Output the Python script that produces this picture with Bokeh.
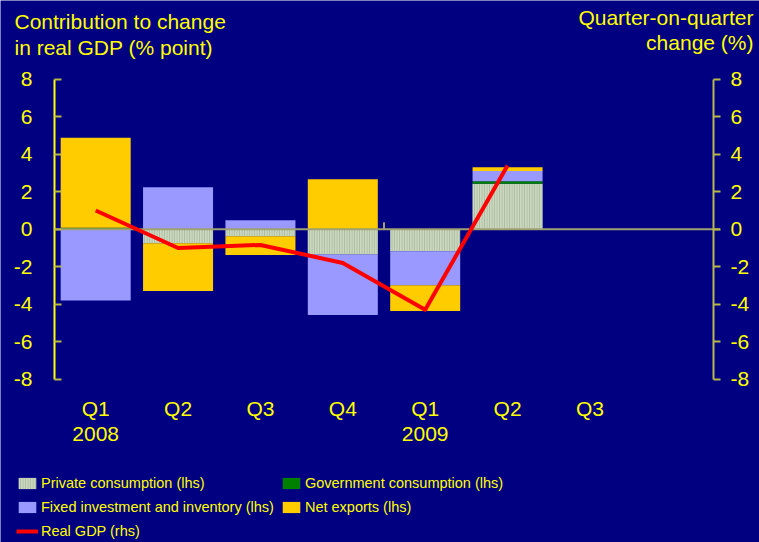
import numpy as np
from bokeh.plotting import figure
from bokeh.models import Range1d, LinearAxis, FixedTicker, Label, Legend, LegendItem
from bokeh.embed import file_html
from bokeh.resources import INLINE

# ---- data ----
quarter_labels = ["Q1\n2008", "Q2", "Q3", "Q4", "Q1\n2009", "Q2", "Q3", ""]
private = [0.0, -0.75, -0.37, -1.35, -1.17, 2.43]
government = [0.08, 0.0, 0.0, 0.0, 0.0, 0.13]
investment = [-3.8, 2.24, 0.48, -3.22, -1.82, 0.55]
net_exports = [4.8, -2.55, -1.0, 2.67, -1.37, 0.2]
real_gdp = [1.0, -1.0, -0.84, -1.8, -4.3, 3.4]
y_ticks = [-8, -6, -4, -2, 0, 2, 4, 6, 8]
y_min, y_max = -8, 8
year_breaks = [4]
left_title = ["Contribution to change", "in real GDP (% point)"]
right_title = ["Quarter-on-quarter", "change (%)"]

NAVY = "#000080"
YEL = "#ffff00"
AXGREY = "#b8b848"
FONT = "Liberation Sans"

# ---- layout (pixels) ----
W_PX, H_PX = 759, 542
PLOT_L, PLOT_R, PLOT_T, PLOT_B = 54, 713, 78.7, 378.7

n_slots = len(quarter_labels)
n = len(private)
xs = np.arange(n) + 0.5

px_x = (PLOT_R - PLOT_L) / n_slots
px_y = (PLOT_B - PLOT_T) / (y_max - y_min)
x_lo = 0 - PLOT_L / px_x
x_hi = n_slots + (W_PX - PLOT_R) / px_x
y_hi = y_max + PLOT_T / px_y
y_lo = y_min - (H_PX - PLOT_B) / px_y

# stacked positive / negative parts
pos = np.zeros(n)
neg = np.zeros(n)
stacks = []
for vals in [private, government, investment, net_exports]:
    v = np.array(vals, dtype=float)
    bottom = np.where(v >= 0, pos, neg)
    top = bottom + v
    pos = np.where(v >= 0, top, pos)
    neg = np.where(v < 0, top, neg)
    stacks.append((bottom, top))

p = figure(width=W_PX, height=H_PX, x_range=Range1d(x_lo, x_hi), y_range=Range1d(y_lo, y_hi),
           output_backend="svg", toolbar_location=None, min_border=0,
           background_fill_color=NAVY, border_fill_color=NAVY, outline_line_color=None)
p.xgrid.visible = False
p.ygrid.visible = False

tick_text = {t: str(t) for t in y_ticks}

# left axis (lhs)
ly = p.yaxis[0]
ly.fixed_location = 0
ly.bounds = (y_min, y_max)
ly.ticker = FixedTicker(ticks=y_ticks)
ly.major_label_overrides = tick_text
ly.axis_line_color = YEL
ly.axis_line_width = 2
ly.major_tick_line_color = AXGREY
ly.major_tick_line_width = 2
ly.major_tick_in = 7
ly.major_tick_out = 0
ly.minor_tick_line_color = None
ly.major_label_standoff = 22
ly.major_label_text_color = YEL
ly.major_label_text_font = FONT
ly.major_label_text_font_size = "21px"

# right axis (rhs)
p.extra_y_ranges = {"rhs": Range1d(y_lo, y_hi)}
ry = LinearAxis(y_range_name="rhs", ticker=FixedTicker(ticks=y_ticks), fixed_location=n_slots,
                bounds=(y_min, y_max))
ry.major_label_overrides = tick_text
ry.axis_line_color = AXGREY
ry.axis_line_width = 2
ry.major_tick_line_color = AXGREY
ry.major_tick_line_width = 2
ry.major_tick_in = 0
ry.major_tick_out = 7
ry.minor_tick_line_color = None
ry.major_label_standoff = 10
ry.major_label_text_color = YEL
ry.major_label_text_font = FONT
ry.major_label_text_font_size = "21px"
p.add_layout(ry, "right")

# category axis
bx = p.xaxis[0]
bx.fixed_location = y_min
bx.ticker = FixedTicker(ticks=list(np.arange(n_slots) + 0.5))
bx.major_label_overrides = {float(i + 0.5): lab for i, lab in enumerate(quarter_labels)}
bx.axis_line_color = None
bx.major_tick_line_color = None
bx.minor_tick_line_color = None
bx.major_label_standoff = 12
bx.major_label_text_color = YEL
bx.major_label_text_font = FONT
bx.major_label_text_font_size = "21px"
bx.major_label_text_line_height = 1.08

# bars
BW = 0.85
(b0, t0), (b1, t1), (b2, t2), (b3, t3) = stacks
r_priv = p.vbar(x=xs, bottom=b0, top=t0, width=BW, fill_color="#cad8c0", line_color=None,
                hatch_pattern="|", hatch_color="#aab89c", hatch_scale=2.5, hatch_weight=1)
r_gov = p.vbar(x=xs, bottom=b1, top=t1, width=BW, fill_color="#008000", line_color=None)
r_inv = p.vbar(x=xs, bottom=b2, top=t2, width=BW, fill_color="#9999ff", line_color=None)
r_nx = p.vbar(x=xs, bottom=b3, top=t3, width=BW, fill_color="#ffcc00", line_color=None)

# zero line and year separator
p.segment(x0=[0], y0=[0], x1=[n_slots + 0.08], y1=[0], line_color="#a0a070", line_width=2)
p.segment(x0=year_breaks, y0=[0] * len(year_breaks), x1=year_breaks, y1=[0.37] * len(year_breaks),
          line_color="#a0a070", line_width=2)

r_gdp = p.line(x=xs, y=real_gdp, y_range_name="rhs", line_color="#ff0000", line_width=4,
               line_join="round")

# axis titles
for txt, base in zip(left_title, [21, 46.5]):
    p.add_layout(Label(x=14, y=H_PX - base, x_units="screen", y_units="screen", text=txt,
                       text_color=YEL, text_font=FONT, text_font_size="21px",
                       text_align="left", text_baseline="alphabetic"))
for txt, base in zip(right_title, [16.5, 41.5]):
    p.add_layout(Label(x=753, y=H_PX - base, x_units="screen", y_units="screen", text=txt,
                       text_color=YEL, text_font=FONT, text_font_size="21px",
                       text_align="right", text_baseline="alphabetic"))

legend = Legend(items=[
    LegendItem(label="Private consumption (lhs)", renderers=[r_priv]),
    LegendItem(label="Government consumption (lhs)", renderers=[r_gov]),
    LegendItem(label="Fixed investment and inventory (lhs)", renderers=[r_inv]),
    LegendItem(label="Net exports (lhs)", renderers=[r_nx]),
    LegendItem(label="Real GDP (rhs)", renderers=[r_gdp]),
], location=(16, 2), orientation="horizontal", ncols=2)
legend.background_fill_alpha = 0
legend.border_line_color = None
legend.padding = 0
legend.margin = 0
legend.glyph_width = 22
legend.glyph_height = 14
legend.label_standoff = 3
legend.spacing = 6
legend.label_height = 18
legend.label_text_color = YEL
legend.label_text_font = FONT
legend.label_text_font_size = "14.5px"
p.add_layout(legend)

open("out.html", "w").write(file_html(p, INLINE))
